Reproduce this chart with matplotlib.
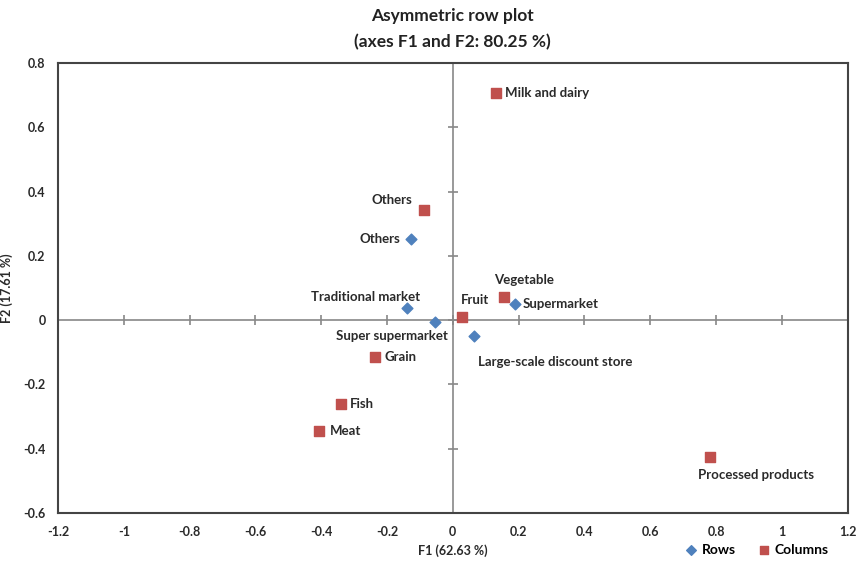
import matplotlib.pyplot as plt

plt.rcParams['font.family'] = ['Lato', 'DejaVu Sans']
plt.rcParams['font.weight'] = 'bold'

# Row points (blue diamonds)
row_names = ['Others', 'Traditional market', 'Super supermarket', 'Supermarket', 'Large-scale discount store']
row_f1 = [-0.126, -0.138, -0.053, 0.188, 0.063]
row_f2 = [0.254, 0.039, -0.005, 0.051, -0.048]

# Column points (red squares)
col_names = ['Milk and dairy', 'Others', 'Vegetable', 'Fruit', 'Grain', 'Fish', 'Meat', 'Processed products']
col_f1 = [0.130, -0.089, 0.154, 0.029, -0.238, -0.341, -0.408, 0.780]
col_f2 = [0.706, 0.344, 0.073, 0.011, -0.114, -0.260, -0.345, -0.425]

xticks = [-1.2, -1, -0.8, -0.6, -0.4, -0.2, 0, 0.2, 0.4, 0.6, 0.8, 1, 1.2]
yticks = [-0.6, -0.4, -0.2, 0, 0.2, 0.4, 0.6, 0.8]

# label placement: (dx, dy) in points, horizontal alignment
row_lbl = [(-8, 0, 'right'), (9, 8, 'right'), (9, -10, 'right'), (6, 0, 'left'), (3, -19, 'left')]
col_lbl = [(7, 0, 'left'), (-8, 7, 'right'), (-7, 12, 'left'), (-1, 12, 'left'),
           (7, 0, 'left'), (7, 0, 'left'), (8, 0, 'left'), (-8, -13, 'left')]

blue = '#4F81BD'
red = '#C0504D'
txt = '#2a2a2a'

fig = plt.figure(figsize=(8.58, 5.65), dpi=100)
ax = fig.add_axes([0.0676, 0.092, 0.9204, 0.7965])

ax.axhline(0, color='#888888', lw=1.2, zorder=1)
ax.axvline(0, color='#888888', lw=1.2, zorder=1)
ax.scatter(xticks, [0] * len(xticks), marker='|', s=50, color='#888888', lw=1.2, zorder=1)
ax.scatter([0] * len(yticks), yticks, marker='_', s=50, color='#888888', lw=1.2, zorder=1)

ax.scatter(row_f1, row_f2, marker='D', s=30, color=blue, label='Rows', zorder=3)
ax.scatter(col_f1, col_f2, marker='s', s=45, color=red, label='Columns', zorder=3)

for name, x, y, (dx, dy, ha) in zip(row_names, row_f1, row_f2, row_lbl):
    ax.annotate(name, (x, y), xytext=(dx, dy), textcoords='offset points',
                ha=ha, va='center', fontsize=9.5, fontweight='bold', color=txt)
for name, x, y, (dx, dy, ha) in zip(col_names, col_f1, col_f2, col_lbl):
    ax.annotate(name, (x, y), xytext=(dx, dy), textcoords='offset points',
                ha=ha, va='center', fontsize=9.5, fontweight='bold', color=txt)

ax.set_xlim(-1.2, 1.2)
ax.set_ylim(-0.6, 0.8)
ax.set_xticks(xticks)
ax.set_yticks(yticks)
ax.set_xticklabels([f'{t:g}' for t in xticks])
ax.set_yticklabels([f'{t:g}' for t in yticks])
ax.tick_params(length=0, labelsize=9, pad=9, labelcolor=txt)
for s in ax.spines.values():
    s.set_color('#444444')
    s.set_linewidth(1.5)

ax.set_xlabel('F1 (62.63 %)', fontsize=9, fontweight='bold', labelpad=5, color=txt)
ax.set_ylabel('F2 (17.61 %)', fontsize=9, fontweight='bold', labelpad=7, color=txt)
fig.text(0.527, 0.972, 'Asymmetric row plot', ha='center', va='center', fontsize=12.5, fontweight='bold', color='#222222')
fig.text(0.527, 0.925, '(axes F1 and F2: 80.25 %)', ha='center', va='center', fontsize=12.5, fontweight='bold', color='#222222')

fig.legend(loc='center', bbox_to_anchor=(757 / 858, 1 - 550 / 565), ncol=2, frameon=False,
           handlelength=0.8, handletextpad=0.4, columnspacing=1.6, markerscale=0.9,
           prop={'weight': 'bold', 'size': 10})

fig.savefig('out.png', dpi=100)
